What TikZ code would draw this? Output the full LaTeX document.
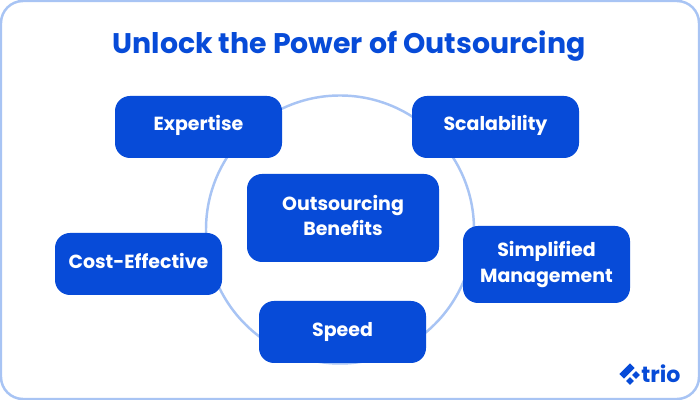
\documentclass[tikz,border=0pt]{standalone}
\usepackage{fontspec}
\setmainfont{Poppins}
\usetikzlibrary{
  positioning
}
\definecolor{trioblue}{HTML}{074BD8}
\definecolor{triopale}{HTML}{A8C4F4}
\tikzset{
  % For the benefit boxes.
  benefit/.style={
    fill=trioblue,
    text=white,
    rounded corners=0.3cm,
    minimum width=3.34cm,
    minimum height=1.24cm,
    inner sep=0pt,
    outer sep=0pt,
    align=center,
    font=\fontsize{10.8pt}{14.4pt}\selectfont\bfseries},
%
  % For the pale outlines.
  pale line/.style={
    draw=triopale,
    line width=1.4pt},
%
  % For the logo squares.
  logo square/.style={
    fill=trioblue,
    rotate=45,
    minimum size=0.11cm,
    inner sep=0pt,
    outer sep=0pt},
}

\begin{document}
\begin{tikzpicture}
  \useasboundingbox (0,0) rectangle (14,8);
  \fill[white] (0,0) rectangle (14,8);
  \draw[pale line, rounded corners=0.44cm] (0.02,0.02) rectangle (13.98,7.98);

  \node[text=trioblue, font=\fontsize{16.15pt}{20pt}\selectfont\bfseries] (title) at (6.98,7.07)
    {Unlock the Power of Outsourcing};

  \node[pale line, circle, minimum size=5.36cm, inner sep=0pt] (ring) at (6.8,3.41) {};

  \node[benefit] (expertise) at (3.97,5.46) {Expertise\rule[-4.4pt]{0pt}{0pt}};
  \node[benefit] (scalability) at (9.91,5.46) {Scalability\rule[-4.4pt]{0pt}{0pt}};
  \node[benefit, minimum width=3.84cm, minimum height=1.76cm] (center) at (6.86,3.64) {Outsourcing\\Benefits\rule[-3pt]{0pt}{0pt}};
  \node[benefit] (cost) at (2.77,2.72) {Cost-Effective\rule[-3.4pt]{0pt}{0pt}};
  \node[benefit, minimum height=1.54cm] (simplified) at (10.93,2.71) {Simplified\\Management};
  \node[benefit] (speed) at (6.85,1.36) {Speed};

  \node[logo square, minimum width=0.3cm, minimum height=0.13cm] (logobar) at (12.54,0.58) {};
  \node[logo square] (logolow) at (12.6,0.38) {};
  \node[logo square] (logoright) at (12.72,0.5) {};
  \node[text=trioblue, anchor=west, inner sep=0pt, font=\fontsize{12.6pt}{14pt}\selectfont\bfseries] (logotext) at (12.82,0.52) {trio};
\end{tikzpicture}
\end{document}
